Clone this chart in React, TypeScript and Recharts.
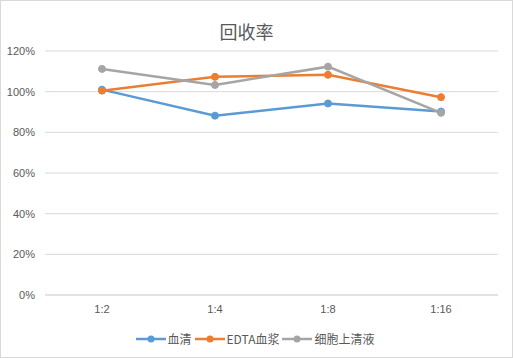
import { LineChart, Line, XAxis, YAxis, CartesianGrid } from "recharts";

const categories = ["1:2", "1:4", "1:8", "1:16"];
const serum = [101, 88.2, 94.2, 90.2];
const edtaPlasma = [100.5, 107.3, 108.3, 97.3];
const cellSupernatant = [111.2, 103.3, 112.3, 89.6];
const yTicks = [0, 20, 40, 60, 80, 100, 120];

const seriesNames = ["血清", "EDTA血浆", "细胞上清液"];
const seriesColors = ["#5B9BD5", "#ED7D31", "#A5A5A5"];
const seriesKeys = ["serum", "edta", "cell"];

const data = categories.map((c, i) => ({
  name: c,
  serum: serum[i],
  edta: edtaPlasma[i],
  cell: cellSupernatant[i],
}));

const font = "'Liberation Sans', Arial, sans-serif";

export default function App() {
  return (
    <div
      style={{
        position: "fixed",
        left: 0,
        top: 0,
        width: 513,
        height: 358,
        boxSizing: "border-box",
        border: "1px solid #d9d9d9",
        background: "#fff",
        fontFamily: font,
      }}
    >
      <style>{"body{margin:0}"}</style>
      <div
        style={{
          position: "absolute",
          top: 17,
          left: -10,
          width: "100%",
          textAlign: "center",
          fontSize: 18,
          color: "#595959",
          fontFamily: "'Noto Sans CJK SC', sans-serif",
        }}
      >
        回收率
      </div>
      <div style={{ position: "absolute", left: -1, top: -1 }}>
        <LineChart
          width={513}
          height={358}
          data={data}
          margin={{ top: 51, right: 15, left: 8, bottom: 33 }}
        >
          <CartesianGrid vertical={false} stroke="#d9d9d9" />
          <XAxis
            dataKey="name"
            axisLine={{ stroke: "#d9d9d9" }}
            tickLine={false}
            height={30}
            padding={{ left: 57, right: 57 }}
            tick={{ fill: "#595959", fontSize: 11, fontFamily: font }}
            tickMargin={4}
          />
          <YAxis
            width={37}
            domain={[0, 120]}
            ticks={yTicks}
            axisLine={false}
            tickLine={false}
            tickFormatter={(v: number) => `${v}%`}
            tick={{ fill: "#595959", fontSize: 11, fontFamily: font }}
            tickMargin={4}
          />
          {seriesKeys.map((k, i) => (
            <Line
              key={k}
              dataKey={k}
              name={seriesNames[i]}
              stroke={seriesColors[i]}
              strokeWidth={2.5}
              dot={{ r: 3.5, fill: seriesColors[i], stroke: seriesColors[i], strokeWidth: 1 }}
              isAnimationActive={false}
            />
          ))}
        </LineChart>
      </div>
      <div
        style={{
          position: "absolute",
          top: 329,
          left: 0,
          width: "100%",
          display: "flex",
          justifyContent: "center",
          alignItems: "center",
          fontSize: 12,
          color: "#595959",
          fontFamily: "'Noto Sans CJK SC', sans-serif",
        }}
      >
        {seriesNames.map((n, i) => (
          <div key={n} style={{ display: "flex", alignItems: "center", marginRight: 3 }}>
            <svg width={30} height={10} style={{ marginRight: 2 }}>
              <line x1={0} y1={5} x2={30} y2={5} stroke={seriesColors[i]} strokeWidth={2.5} />
              <circle cx={15} cy={5} r={3.5} fill={seriesColors[i]} />
            </svg>
            <span style={{ lineHeight: "18px" }}>{n}</span>
          </div>
        ))}
      </div>
    </div>
  );
}
